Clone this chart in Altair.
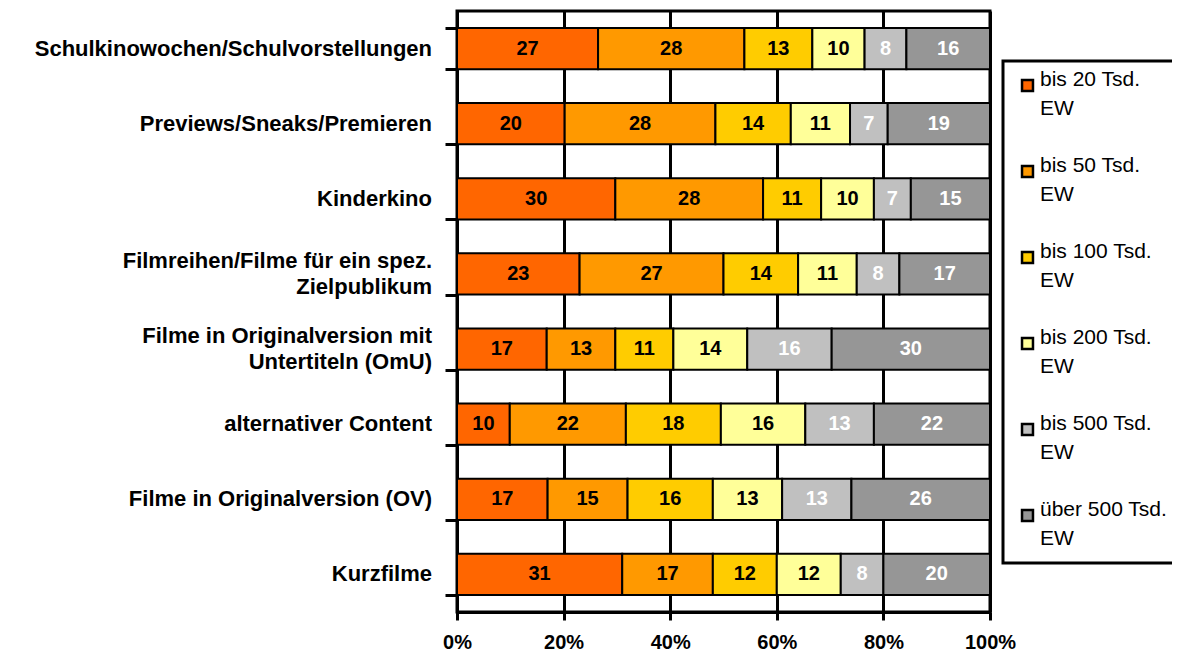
import altair as alt
import pandas as pd

categories = [
    "Schulkinowochen/Schulvorstellungen",
    "Previews/Sneaks/Premieren",
    "Kinderkino",
    "Filmreihen/Filme für ein spez.\nZielpublikum",
    "Filme in Originalversion mit\nUntertiteln (OmU)",
    "alternativer Content",
    "Filme in Originalversion (OV)",
    "Kurzfilme",
]
series = [
    "bis 20 Tsd.\nEW",
    "bis 50 Tsd.\nEW",
    "bis 100 Tsd.\nEW",
    "bis 200 Tsd.\nEW",
    "bis 500 Tsd.\nEW",
    "über 500 Tsd.\nEW",
]
bis20 = [27, 20, 30, 23, 17, 10, 17, 31]
bis50 = [28, 28, 28, 27, 13, 22, 15, 17]
bis100 = [13, 14, 11, 14, 11, 18, 16, 12]
bis200 = [10, 11, 10, 11, 14, 16, 13, 12]
bis500 = [8, 7, 7, 8, 16, 13, 13, 8]
ueber500 = [16, 19, 15, 17, 30, 22, 26, 20]
colors = ["#FF6600", "#FF9900", "#FFCC00", "#FFFF99", "#C0C0C0", "#969696"]

rows = []
for si, vals in enumerate([bis20, bis50, bis100, bis200, bis500, ueber500]):
    for ci, v in enumerate(vals):
        rows.append({"cat": categories[ci], "series": series[si], "idx": si, "val": v})
df = pd.DataFrame(rows)

FONT = "Liberation Sans"

yscale = alt.Scale(paddingInner=0.45, paddingOuter=0.225)

yenc = alt.Y(
    "cat:N",
    sort=categories,
    title=None,
    scale=yscale,
    axis=alt.Axis(
        labels=False,
        tickBand="extent",
        tickSize=12,
        tickWidth=3,
        tickColor="black",
        domainColor="black",
        domainWidth=3,
        grid=False,
    ),
)

bars = (
    alt.Chart(df)
    .mark_bar(stroke="black", strokeWidth=2)
    .encode(
        y=yenc,
        x=alt.X(
            "val:Q",
            stack="normalize",
            title=None,
            scale=alt.Scale(domain=[0, 1]),
            axis=alt.Axis(
                format="%",
                values=[0, 0.2, 0.4, 0.6, 0.8, 1.0],
                labelFont=FONT,
                labelFontSize=20,
                labelFontWeight="bold",
                labelColor="black",
                labelPadding=12,
                labelFlush=False,
                tickSize=8,
                tickWidth=3,
                tickColor="black",
                domainColor="black",
                domainWidth=3,
                grid=True,
                gridColor="black",
                gridWidth=3,
                gridOpacity=1,
            ),
        ),
        color=alt.Color(
            "series:N",
            sort=series,
            scale=alt.Scale(domain=series, range=colors),
            legend=alt.Legend(
                title=None,
                orient="none",
                legendX=546,
                legendY=50,
                labelExpr="split(datum.label, '\\n')",
                labelFont=FONT,
                labelFontSize=21,
                labelColor="black",
                labelLimit=250,
                labelBaseline="alphabetic",
                labelOffset=2,
                symbolType="square",
                symbolSize=120,
                symbolStrokeColor="black",
                symbolStrokeWidth=2.5,
                symbolOpacity=1,
                rowPadding=35,
                padding=14,
                strokeColor="black",
                offset=0,
            ),
        ),
        order=alt.Order("idx:Q"),
    )
)

labels = (
    alt.Chart(df)
    .transform_stack(
        stack="val",
        as_=["x0", "x1"],
        groupby=["cat"],
        sort=[alt.SortField("idx")],
        offset="normalize",
    )
    .transform_calculate(mid="(datum.x0 + datum.x1) / 2")
    .mark_text(font=FONT, fontSize=20, fontWeight="bold", baseline="middle")
    .encode(
        y=alt.Y("cat:N", sort=categories),
        x=alt.X("mid:Q"),
        text=alt.Text("val:Q"),
        color=alt.condition("datum.idx >= 4", alt.value("white"), alt.value("black")),
    )
)

cat_base = (
    alt.Chart(df)
    .transform_filter("datum.idx == 0")
    .transform_calculate(lines="split(datum.cat, '\\n')")
)
cat_single = cat_base.transform_filter("length(datum.lines) == 1").mark_text(
    font=FONT, fontSize=22, fontWeight="bold", align="right", baseline="middle",
    color="black", dx=-25,
).encode(
    y=alt.Y("cat:N", sort=categories),
    x=alt.value(0),
    text=alt.Text("cat:N"),
)
cat_multi = cat_base.transform_filter("length(datum.lines) > 1").mark_text(
    font=FONT, fontSize=22, fontWeight="bold", align="right", baseline="middle",
    color="black", dx=-25, dy=-13, lineHeight=26,
).encode(
    y=alt.Y("cat:N", sort=categories),
    x=alt.value(0),
    text=alt.Text("lines:N"),
)

chart = (
    alt.layer(bars, labels, cat_single, cat_multi)
    .properties(
        width=533,
        height=601,
        autosize=alt.AutoSizeParams(type="none"),
        padding={"left": 449, "top": 3, "right": 182, "bottom": 44},
        background="white",
    )
    .configure(
        view=alt.ViewConfig(stroke="black", strokeWidth=3),
        legend=alt.LegendConfig(strokeWidth=3),
        style={"guide-label": {"lineHeight": 29}},
    )
)

chart.save("out.html", embed_options={"renderer": "svg", "actions": False})
